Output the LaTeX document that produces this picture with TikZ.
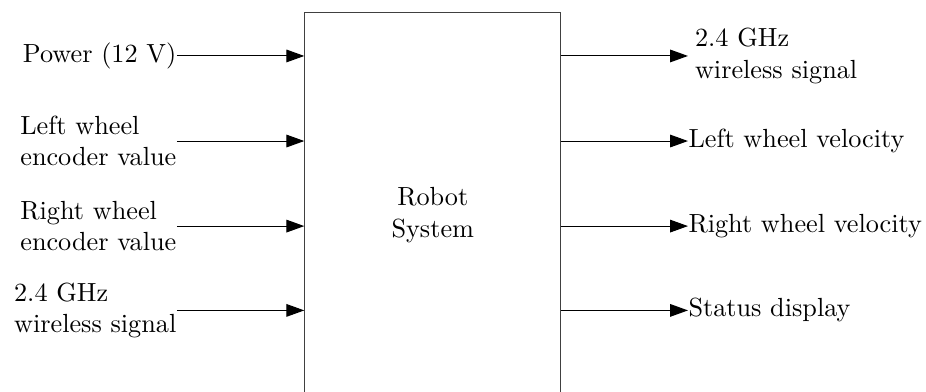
\documentclass[tikz,border=0pt]{standalone}
\usetikzlibrary{arrows.meta}
\tikzset{
  sig/.style={-{Triangle[length=6.8pt,width=4.8pt]}},
  inlabel/.style={anchor=east,align=left,inner sep=0pt},
  outlabel/.style={anchor=west,align=left,inner sep=0pt},
  block/.style={draw=black!75,minimum width=3.43cm,minimum height=5.42cm,
                inner sep=0pt,align=center},
}
\begin{document}
\begin{tikzpicture}
\useasboundingbox (0,0) rectangle (12.41,5.25);
% coordinates
\coordinate (L1) at (2.37,4.50);%
\coordinate (L2) at (2.37,3.36);%
\coordinate (L3) at (2.37,2.22);%
\coordinate (L4) at (2.37,1.09);%
\coordinate (R1) at (9.22,4.50);%
\coordinate (R2) at (9.22,3.36);%
\coordinate (R3) at (9.22,2.22);%
\coordinate (R4) at (9.22,1.09);%
% system block
\node[block] (sys) at (5.80,2.37) {Robot\\System};
% inputs
\node[inlabel] (pwr)  at (L1) {Power (12 V)};
\node[inlabel] (lenc) at (L2) {Left wheel\\encoder value};
\node[inlabel] (renc) at (L3) {Right wheel\\encoder value};
\node[inlabel] (rfin) at (L4) {2.4 GHz\\wireless signal};
% outputs
\node[outlabel,inner xsep=2.5pt] (rfout) at (R1) {2.4 GHz\\wireless signal};
\node[outlabel] (lvel) at (R2) {Left wheel velocity};
\node[outlabel] (rvel) at (R3) {Right wheel velocity};
\node[outlabel] (stat) at (R4) {Status display};
% signals in
\draw[sig] (pwr.east)  -- (pwr.east -| sys.west);
\draw[sig] (lenc.east) -- (lenc.east -| sys.west);
\draw[sig] (renc.east) -- (renc.east -| sys.west);
\draw[sig] (rfin.east) -- (rfin.east -| sys.west);
% signals out
\draw[sig] (rfout.west -| sys.east) -- (rfout.west);
\draw[sig] (lvel.west -| sys.east)  -- (lvel.west);
\draw[sig] (rvel.west -| sys.east)  -- (rvel.west);
\draw[sig] (stat.west -| sys.east)  -- (stat.west);
\end{tikzpicture}
\end{document}
